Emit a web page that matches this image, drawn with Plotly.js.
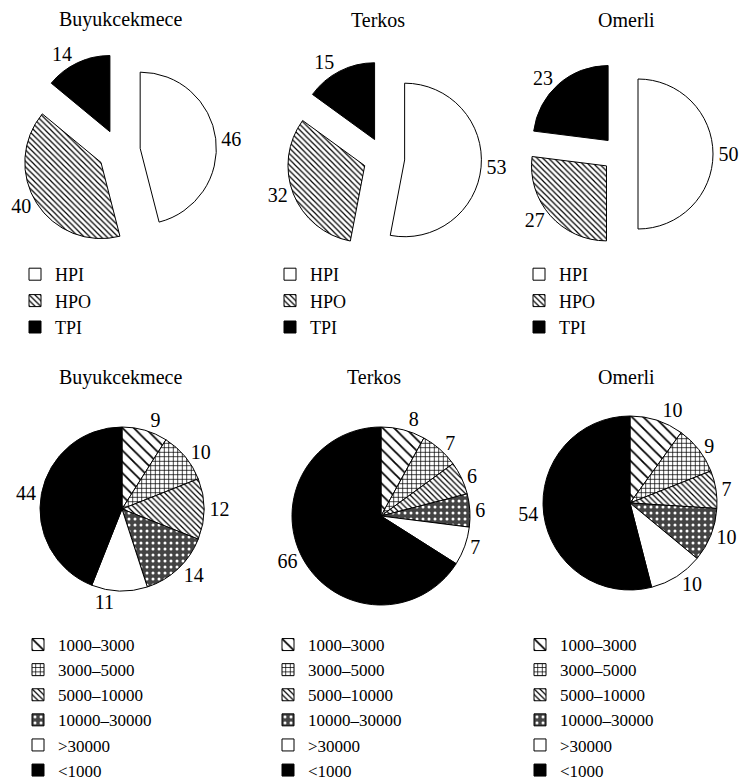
<!DOCTYPE html>
<html>
<head>
<meta charset="utf-8">
<script src="https://cdn.plot.ly/plotly-3.0.1.min.js"></script>
<style>html,body{margin:0;padding:0;background:#fff;}#chart{width:741px;height:784px;}</style>
</head>
<body>
<div id="chart"></div>
<script>
// ---- data ----
const sites = ['Buyukcekmece', 'Terkos', 'Omerli'];
const topLabels = ['HPI', 'HPO', 'TPI'];
const topBuyukcekmece = [46, 40, 14];
const topTerkos = [53, 32, 15];
const topOmerli = [50, 27, 23];
const bottomLabels = ['1000–3000', '3000–5000', '5000–10000', '10000–30000', '>30000', '<1000'];
const botBuyukcekmece = [9, 10, 12, 14, 11, 44];
const botTerkos = [8, 7, 6, 6, 7, 66];
const botOmerli = [10, 9, 7, 10, 10, 54];

// ---- layout helpers ----
const W = 741, H = 784;
const FONT = 'Liberation Serif, Times New Roman, serif';
const FS = 20;      // slice value labels
function dom(cx, cy, size) {
  return {x: [(cx - size / 2) / W, (cx + size / 2) / W], y: [(H - cy - size / 2) / H, (H - cy + size / 2) / H]};
}

const topColors = ['#ffffff', '#ffffff', '#000000'];
const topPattern = {shape: ['', '\\', ''], size: [4, 4, 4], solidity: [0.3, 0.3, 0.3], fgcolor: '#000', bgcolor: ['#fff', '#fff', '#000'], fillmode: 'replace'};
const botColors = ['#ffffff', '#ffffff', '#ffffff', '#444444', '#ffffff', '#000000'];
const botPattern = {
  shape: ['\\', '+', '\\', '.', '', ''],
  size: [8, 4.5, 4, 6, 4, 4],
  solidity: [0.22, 0.3, 0.3, 0.2, 0.3, 0.3],
  fgcolor: ['#000', '#000', '#000', '#fff', '#000', '#000'],
  bgcolor: ['#fff', '#fff', '#fff', '#444', '#fff', '#000'],
  fillmode: 'replace'
};

function topPie(vals, d, pull, legend) {
  return {
    type: 'pie', labels: topLabels, values: vals, sort: false, direction: 'clockwise', rotation: 0,
    pull: pull, domain: d, legend: legend, legendgroup: legend,
    marker: {colors: topColors, pattern: topPattern, line: {color: '#000', width: 1}},
    textinfo: 'value', textposition: 'outside',
    outsidetextfont: {family: FONT, size: FS, color: '#000'},
    hoverinfo: 'skip'
  };
}
function botPie(vals, d, legend) {
  return {
    type: 'pie', labels: bottomLabels, values: vals, sort: false, direction: 'clockwise', rotation: 0,
    domain: d, legend: legend, legendgroup: legend,
    marker: {colors: botColors, pattern: botPattern, line: {color: '#000', width: 1}},
    textinfo: 'value', textposition: 'outside',
    outsidetextfont: {family: FONT, size: FS, color: '#000'},
    hoverinfo: 'skip'
  };
}

const data = [
  topPie(topBuyukcekmece, dom(119, 151, 195), 0.28, 'legend'),
  topPie(topTerkos, dom(384, 158, 195), 0.27, 'legend2'),
  topPie(topOmerli, dom(620, 154, 186), 0.24, 'legend3'),
  botPie(botBuyukcekmece, dom(122, 509, 164), 'legend4'),
  botPie(botTerkos, dom(381, 516, 178), 'legend5'),
  botPie(botOmerli, dom(630, 503, 174), 'legend6')
];

function leg(xpx, ypx, fs) {
  return {x: xpx / W, y: (H - ypx) / H, xanchor: 'left', yanchor: 'top', font: {family: FONT, size: fs, color: '#000'},
          bgcolor: 'rgba(0,0,0,0)', borderwidth: 0, traceorder: 'normal', itemclick: false, itemdoubleclick: false};
}

const titlePos = [[121, 20], [378, 20], [626, 20], [121, 377], [374, 377], [626, 377]];
const annotations = titlePos.map((p, i) => ({
  text: sites[i % 3], x: p[0] / W, y: (H - p[1]) / H, xref: 'paper', yref: 'paper',
  xanchor: 'center', yanchor: 'middle', showarrow: false, font: {family: FONT, size: 20, color: '#000'}
}));

const layout = {
  width: W, height: H, margin: {l: 0, r: 0, t: 0, b: 0, autoexpand: false},
  paper_bgcolor: '#fff', plot_bgcolor: '#fff',
  font: {family: FONT, size: 18, color: '#000'},
  showlegend: true,
  legend: leg(15, 256, 18),
  legend2: leg(270, 256, 18),
  legend3: leg(519, 256, 18),
  legend4: leg(18, 627, 17),
  legend5: leg(268, 627, 17),
  legend6: leg(520, 627, 17),
  annotations: annotations
};

Plotly.newPlot('chart', data, layout, {displayModeBar: false, staticPlot: true});
</script>
</body>
</html>
